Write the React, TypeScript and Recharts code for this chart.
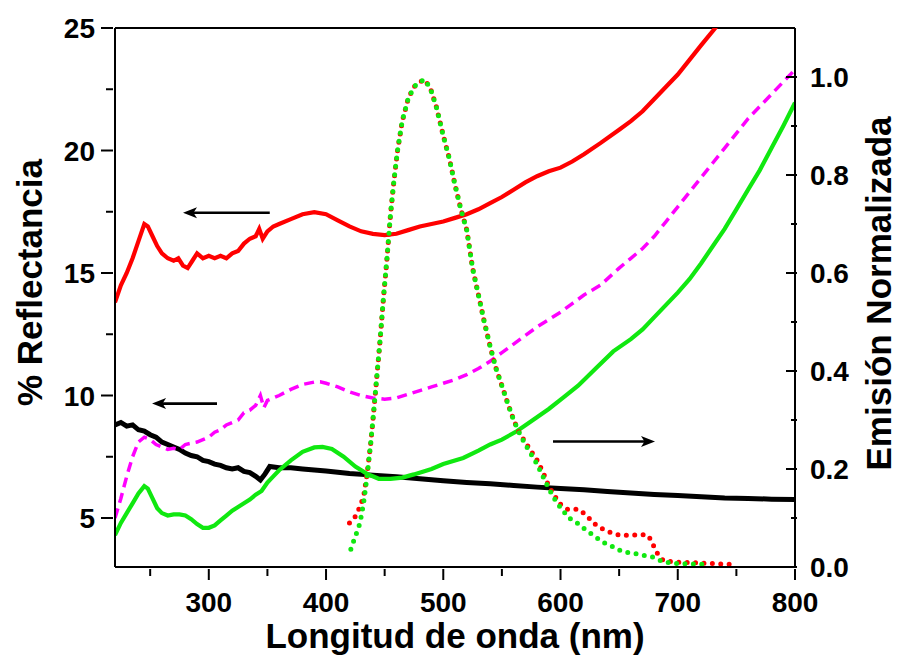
import { Label, Line, LineChart, ReferenceLine, XAxis, YAxis } from 'recharts'

// wavelength (nm) and % reflectance, one pair per curve
const redNm = [220, 225, 230, 235, 240, 245, 248, 252, 256, 260, 265, 270, 274, 278, 282, 286, 290, 295, 300, 305, 310, 315, 320, 325, 330, 335, 340, 343, 346, 350, 355, 360, 370, 380, 390, 400, 410, 420, 430, 440, 450, 460, 470, 480, 490, 500, 510, 520, 530, 540, 550, 560, 570, 580, 590, 600, 610, 620, 634, 650, 660, 670, 680, 690, 700, 710, 720, 732, 750, 780, 800]
const redR = [13.8, 14.5, 15.0, 15.6, 16.3, 17.0, 16.9, 16.5, 16.1, 15.8, 15.6, 15.5, 15.6, 15.3, 15.2, 15.5, 15.8, 15.6, 15.7, 15.6, 15.7, 15.6, 15.8, 15.9, 16.2, 16.4, 16.5, 16.8, 16.4, 16.7, 16.9, 17.0, 17.2, 17.4, 17.48, 17.4, 17.15, 16.9, 16.7, 16.6, 16.55, 16.6, 16.75, 16.9, 17.0, 17.1, 17.25, 17.4, 17.6, 17.85, 18.1, 18.4, 18.7, 18.95, 19.15, 19.3, 19.55, 19.85, 20.3, 20.85, 21.2, 21.6, 22.1, 22.6, 23.1, 23.7, 24.3, 25.0, 26.2, 28.2, 29.6]

const magentaNm = [220, 225, 230, 235, 240, 245, 250, 255, 260, 265, 270, 275, 280, 285, 290, 295, 300, 305, 310, 315, 320, 325, 330, 335, 340, 344, 347, 350, 355, 360, 370, 380, 390, 395, 400, 410, 420, 430, 440, 450, 460, 470, 480, 490, 500, 510, 520, 530, 540, 550, 560, 570, 580, 590, 600, 610, 620, 634, 650, 660, 670, 680, 690, 700, 710, 720, 730, 740, 750, 760, 770, 780, 790, 800]
const magentaR = [5.0, 5.8, 6.7, 7.5, 8.1, 8.3, 8.2, 8.0, 7.9, 7.8, 7.85, 7.8, 8.0, 8.05, 8.1, 8.2, 8.3, 8.5, 8.6, 8.8, 8.9, 9.0, 9.3, 9.4, 9.6, 10.0, 9.5, 9.8, 9.9, 10.0, 10.25, 10.45, 10.55, 10.56, 10.5, 10.35, 10.15, 10.0, 9.9, 9.85, 9.9, 10.05, 10.2, 10.35, 10.5, 10.65, 10.85, 11.1, 11.4, 11.75, 12.1, 12.45, 12.8, 13.1, 13.4, 13.75, 14.1, 14.5, 15.2, 15.6, 16.0, 16.5, 17.1, 17.7, 18.3, 18.9, 19.5, 20.1, 20.7, 21.3, 21.8, 22.3, 22.8, 23.3]

const greenNm = [220, 225, 230, 235, 240, 245, 248, 252, 256, 260, 265, 270, 275, 280, 285, 290, 295, 300, 305, 310, 315, 320, 325, 330, 335, 340, 345, 350, 355, 360, 370, 380, 390, 397, 405, 415, 425, 435, 445, 455, 465, 475, 490, 500, 517, 530, 540, 550, 563, 575, 590, 602, 615, 630, 645, 660, 670, 680, 690, 700, 710, 720, 730, 740, 750, 760, 770, 780, 790, 800]
const greenR = [4.3, 4.8, 5.2, 5.6, 6.0, 6.3, 6.2, 5.8, 5.4, 5.2, 5.1, 5.15, 5.15, 5.1, 4.95, 4.75, 4.6, 4.6, 4.7, 4.9, 5.1, 5.3, 5.45, 5.6, 5.75, 5.95, 6.1, 6.45, 6.7, 6.95, 7.35, 7.7, 7.88, 7.9, 7.82, 7.5, 7.1, 6.8, 6.6, 6.6, 6.65, 6.78, 7.0, 7.2, 7.45, 7.75, 8.0, 8.2, 8.55, 8.95, 9.45, 9.9, 10.4, 11.1, 11.8, 12.3, 12.7, 13.2, 13.7, 14.2, 14.75, 15.4, 16.1, 16.8, 17.6, 18.4, 19.2, 20.1, 21.0, 21.95]

const blackNm = [220, 225, 230, 235, 240, 245, 250, 255, 260, 265, 270, 275, 280, 285, 290, 295, 300, 305, 310, 315, 320, 325, 330, 335, 340, 344, 348, 352, 360, 370, 380, 400, 420, 440, 460, 480, 500, 520, 540, 560, 580, 600, 620, 640, 660, 680, 700, 720, 740, 760, 780, 800]
const blackR = [8.8, 8.9, 8.75, 8.8, 8.6, 8.55, 8.4, 8.3, 8.1, 8.0, 7.9, 7.8, 7.65, 7.55, 7.5, 7.35, 7.3, 7.2, 7.15, 7.05, 7.0, 7.05, 6.9, 6.85, 6.7, 6.55, 6.8, 7.1, 7.05, 7.05, 7.0, 6.92, 6.82, 6.75, 6.68, 6.6, 6.52, 6.45, 6.4, 6.33, 6.26, 6.2, 6.15, 6.08, 6.02, 5.96, 5.92, 5.87, 5.82, 5.8, 5.77, 5.75]

// normalized emission (right axis)
const redEmNm = [420, 426, 432, 435, 438, 440, 443, 446, 449, 452, 455, 458, 461, 465, 470, 475, 480, 484, 489, 494, 500, 505, 510, 515, 520, 525, 530, 535, 540, 545, 550, 555, 560, 565, 570, 575, 580, 585, 590, 595, 600, 606, 615, 622, 628, 634, 642, 650, 660, 670, 675, 679, 683, 688, 700, 720, 750]
const redEm = [0.09, 0.106, 0.143, 0.19, 0.25, 0.3, 0.38, 0.46, 0.55, 0.63, 0.72, 0.79, 0.85, 0.91, 0.955, 0.98, 0.99, 0.995, 0.977, 0.94, 0.88, 0.835, 0.78, 0.73, 0.688, 0.61, 0.555, 0.5, 0.45, 0.405, 0.37, 0.334, 0.3, 0.273, 0.255, 0.236, 0.218, 0.194, 0.165, 0.145, 0.128, 0.118, 0.118, 0.106, 0.09, 0.08, 0.071, 0.065, 0.065, 0.066, 0.064, 0.045, 0.026, 0.012, 0.01, 0.008, 0.005]

const greenEmNm = [420, 423, 426, 429, 432, 435, 438, 440, 443, 446, 449, 452, 455, 458, 461, 465, 470, 475, 480, 484, 489, 494, 500, 505, 510, 515, 520, 525, 530, 535, 540, 545, 550, 555, 560, 565, 570, 575, 580, 585, 590, 597, 602, 606, 614, 622, 636, 645, 653, 662, 670, 679, 688, 700, 725]
const greenEm = [0.028, 0.049, 0.069, 0.09, 0.13, 0.185, 0.25, 0.3, 0.38, 0.46, 0.55, 0.63, 0.72, 0.79, 0.85, 0.91, 0.955, 0.98, 0.99, 0.995, 0.977, 0.94, 0.88, 0.835, 0.78, 0.73, 0.688, 0.61, 0.555, 0.5, 0.45, 0.405, 0.37, 0.334, 0.3, 0.273, 0.25, 0.23, 0.21, 0.185, 0.16, 0.13, 0.116, 0.102, 0.09, 0.075, 0.051, 0.041, 0.031, 0.028, 0.024, 0.02, 0.01, 0.007, 0.005]

const xTicks = [250, 300, 350, 400, 450, 500, 550, 600, 650, 700, 750, 800]
const leftTicks = [5, 7.5, 10, 12.5, 15, 17.5, 20, 22.5, 25]
const rightTicks = [0, 0.1, 0.2, 0.3, 0.4, 0.5, 0.6, 0.7, 0.8, 0.9, 1.0]

// arrows: [tail nm, tip nm, reflectance level]
const arrows = [
  [352, 278, 17.46],
  [307, 251.6, 9.67],
  [593.6, 680.6, 8.12],
]

const zip = (xs: number[], ys: number[]) => xs.map((x, i) => ({ x, y: ys[i] }))

const font = "Arial, 'Liberation Sans', Helvetica, sans-serif"

const tickText = { fontFamily: font, fontWeight: 700, fontSize: 28, fill: '#000' }
const titleText = { fontFamily: font, fontWeight: 700, fontSize: 35, fill: '#000' }

function BottomTick({ x, y, payload }: any) {
  const major = payload.value % 100 === 0
  return (
    <g>
      <line x1={x} x2={x} y1={y} y2={y + (major ? 11 : 7)} stroke="#000" strokeWidth={2} />
      {major && (
        <text x={x} y={y + 43} textAnchor="middle" {...tickText}>
          {payload.value}
        </text>
      )}
    </g>
  )
}

function LeftTick({ x, y, payload }: any) {
  const major = payload.value % 5 === 0
  return (
    <g>
      <line x1={x} x2={x - (major ? 12 : 7)} y1={y} y2={y} stroke="#000" strokeWidth={2} />
      {major && (
        <text x={x - 18} y={y + 10} textAnchor="end" {...tickText}>
          {payload.value}
        </text>
      )}
    </g>
  )
}

function RightTick({ x, y, payload }: any) {
  const major = Math.round(payload.value * 10) % 2 === 0
  return (
    <g>
      <line x1={x} x2={x - (major ? 11 : 6)} y1={y} y2={y} stroke="#000" strokeWidth={2} />
      {major && (
        <text x={x + 13} y={y + 10} textAnchor="start" {...tickText}>
          {payload.value.toFixed(1)}
        </text>
      )}
    </g>
  )
}

function Arrow({ x1, y1, x2, y2 }: any) {
  const dir = Math.sign(x2 - x1)
  const head = 14
  return (
    <g>
      <line x1={x1} y1={y1} x2={x2 - dir * head * 0.7} y2={y2} stroke="#000" strokeWidth={2.6} />
      <polygon
        points={`${x2},${y2} ${x2 - dir * head},${y2 - 5.5} ${x2 - dir * head * 0.75},${y2} ${x2 - dir * head},${y2 + 5.5}`}
        fill="#000"
      />
    </g>
  )
}

export default function App() {
  return (
    <div style={{ width: 899, height: 657, background: '#fff' }}>
      <style>{'body{margin:0}'}</style>
      <LineChart width={899} height={657} margin={{ top: 28, right: 14, bottom: 30, left: 20 }}>
        <XAxis
          type="number"
          dataKey="x"
          domain={[220, 800]}
          ticks={xTicks}
          interval={0}
          tickSize={0}
          tickLine={false}
          tick={<BottomTick />}
          axisLine={{ stroke: '#000', strokeWidth: 2 }}
          height={60}
          allowDataOverflow
        >
          <Label
            content={({ viewBox }: any) => (
              <text x={viewBox.x + viewBox.width / 2} y={viewBox.y + 81} textAnchor="middle" {...titleText}>
                Longitud de onda (nm)
              </text>
            )}
          />
        </XAxis>
        <YAxis
          yAxisId="left"
          type="number"
          domain={[3, 25]}
          ticks={leftTicks}
          interval={0}
          tickSize={0}
          tickLine={false}
          tick={<LeftTick />}
          axisLine={{ stroke: '#000', strokeWidth: 2 }}
          width={95}
          allowDataOverflow
        >
          <Label
            content={({ viewBox }: any) => {
              const cx = viewBox.x + 22
              const cy = viewBox.y + viewBox.height / 2 - 15
              return (
                <text x={cx} y={cy} transform={`rotate(-90 ${cx} ${cy})`} textAnchor="middle" {...titleText}>
                  % Reflectancia
                </text>
              )
            }}
          />
        </YAxis>
        <YAxis
          yAxisId="right"
          orientation="right"
          type="number"
          domain={[0, 1.1]}
          ticks={rightTicks}
          interval={0}
          tickSize={0}
          tickLine={false}
          tick={<RightTick />}
          axisLine={{ stroke: '#000', strokeWidth: 2 }}
          width={90}
          allowDataOverflow
        >
          <Label
            content={({ viewBox }: any) => {
              const cx = viewBox.x + 96
              const cy = viewBox.y + viewBox.height / 2 - 4
              return (
                <text x={cx} y={cy} transform={`rotate(-90 ${cx} ${cy})`} textAnchor="middle" {...titleText}>
                  Emisión Normalizada
                </text>
              )
            }}
          />
        </YAxis>

        <ReferenceLine yAxisId="left" y={25} stroke="#000" strokeWidth={2} ifOverflow="visible" />

        <Line data={zip(blackNm, blackR)} dataKey="y" yAxisId="left" type="linear" stroke="#000" strokeWidth={5} dot={false} isAnimationActive={false} />
        <Line data={zip(magentaNm, magentaR)} dataKey="y" yAxisId="left" type="linear" stroke="#FF00FF" strokeWidth={3.5} strokeDasharray="10 6" dot={false} isAnimationActive={false} />
        <Line data={zip(greenNm, greenR)} dataKey="y" yAxisId="left" type="linear" stroke="#10E810" strokeWidth={4.2} dot={false} isAnimationActive={false} />
        <Line data={zip(redNm, redR)} dataKey="y" yAxisId="left" type="linear" stroke="#FF0000" strokeWidth={4.2} dot={false} isAnimationActive={false} />
        <Line data={zip(redEmNm, redEm)} dataKey="y" yAxisId="right" type="linear" stroke="#FF0000" strokeWidth={5} strokeDasharray="0 8.4" strokeLinecap="round" dot={false} isAnimationActive={false} />
        <Line data={zip(greenEmNm, greenEm)} dataKey="y" yAxisId="right" type="linear" stroke="#10E810" strokeWidth={5} strokeDasharray="0 8.4" strokeDashoffset={4.2} strokeLinecap="round" dot={false} isAnimationActive={false} />

        {arrows.map(([from, to, level], i) => (
          <ReferenceLine
            key={i}
            yAxisId="left"
            segment={[{ x: from, y: level }, { x: to, y: level }]}
            shape={(p: any) => <Arrow {...p} />}
          />
        ))}
      </LineChart>
    </div>
  )
}
